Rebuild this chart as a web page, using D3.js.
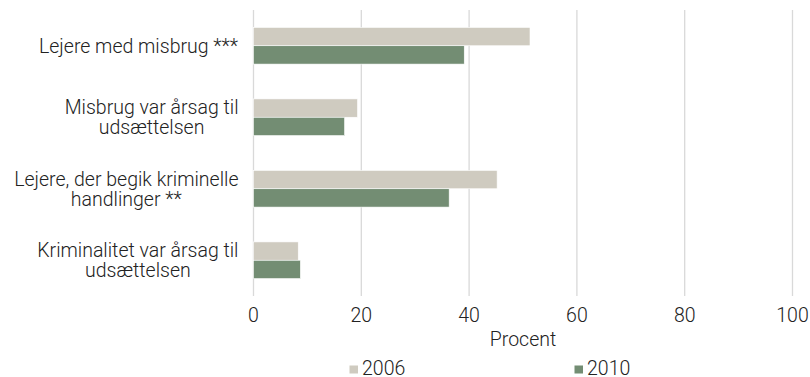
<!DOCTYPE html>
<html><head><meta charset="utf-8">
<script src="https://cdn.jsdelivr.net/npm/d3@7"></script>
<style>body{margin:0;background:#fff;} text{font-family:Roboto,sans-serif;font-weight:300;fill:#222;}</style>
</head><body><svg id="c" width="810" height="377"></svg>
<script>
const categories = [
  ["Lejere med misbrug ***"],
  ["Misbrug var årsag til", "udsættelsen"],
  ["Lejere, der begik kriminelle", "handlinger **"],
  ["Kriminalitet var årsag til", "udsættelsen"]
];
const series = ["2006", "2010"];
const values2006 = [51.3, 19.3, 45.2, 8.3];
const values2010 = [39.1, 16.9, 36.3, 8.7];
const xTicks = [0, 20, 40, 60, 80, 100];
const colors = ["#cfcbc0", "#738d73"];
const axisTitle = "Procent";

const svg = d3.select("#c");
const pL = 253.5, pR = 792.5, pT = 10, pB = 296;
const fs = 19.5;
const x = d3.scaleLinear().domain([0, 100]).range([pL, pR]);
const y = d3.scaleBand().domain(d3.range(categories.length)).range([pT, pB]).paddingInner(0.487).paddingOuter(0.2435);
const yi = d3.scaleBand().domain(series).range([0, y.bandwidth()]);

svg.append("g").selectAll("line").data(xTicks).join("line")
  .attr("x1", d => x(d)).attr("x2", d => x(d)).attr("y1", pT).attr("y2", pB)
  .attr("stroke", "#d9d9d9").attr("stroke-width", 1.3);

const data = [values2006, values2010];
series.forEach((s, si) => {
  svg.append("g").selectAll("rect").data(data[si]).join("rect")
    .attr("x", x(0)).attr("y", (d, i) => y(i) + yi(s))
    .attr("width", d => x(d) - x(0)).attr("height", yi.bandwidth())
    .attr("fill", colors[si]).attr("stroke", "#fff").attr("stroke-width", 0.6);
});

const lh = 20;
categories.forEach((lines, i) => {
  const cy = y(i) + y.bandwidth() / 2;
  const t = svg.append("text").attr("text-anchor", "middle").attr("font-size", fs);
  lines.forEach((ln, k) => {
    t.append("tspan").attr("x", 0).attr("y", cy + (k - (lines.length - 1) / 2) * lh + 7).text(ln);
  });
  const w = t.node().getBBox().width;
  t.attr("transform", `translate(${238.5 - w / 2},0)`);
});

svg.append("g").selectAll("text").data(xTicks).join("text")
  .attr("x", d => x(d)).attr("y", 322).attr("text-anchor", "middle").attr("font-size", fs).text(d => d);

svg.append("text").attr("x", x(50)).attr("y", 346).attr("text-anchor", "middle").attr("font-size", fs).text(axisTitle);

const legX = [349.5, 574.5];
series.forEach((s, si) => {
  svg.append("rect").attr("x", legX[si]).attr("y", 365.5).attr("width", 8.5).attr("height", 8).attr("fill", colors[si]);
  svg.append("text").attr("x", legX[si] + 12.5).attr("y", 374.5).attr("font-size", fs).text(s);
});
</script></body></html>
